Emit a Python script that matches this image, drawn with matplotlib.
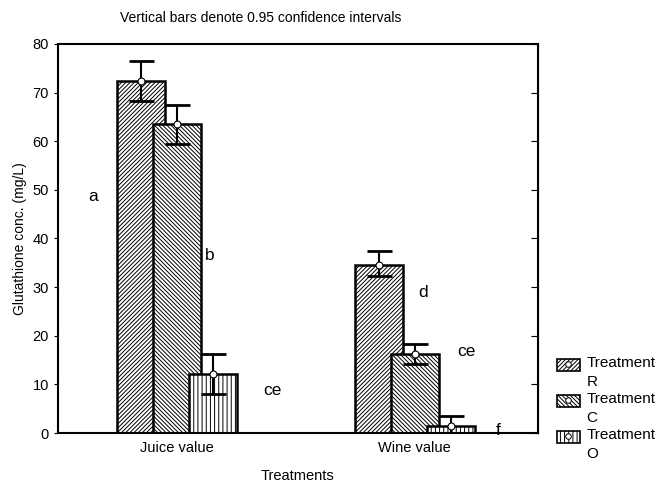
import matplotlib
matplotlib.use("Agg")
import matplotlib.pyplot as plt
from matplotlib.patches import Patch
from matplotlib.lines import Line2D
from matplotlib.legend_handler import HandlerBase, HandlerPatch, HandlerLine2D
import numpy as np

plt.rcParams['font.family'] = ['Liberation Sans', 'DejaVu Sans']
plt.rcParams['hatch.linewidth'] = 0.7

groups = ["Juice value", "Wine value"]
treatments = ["Treatment\nR", "Treatment\nC", "Treatment\nO"]
means = {
    "R": [72.4, 34.5],
    "C": [63.5, 16.2],
    "O": [12.1, 1.4],
}
err_hi = {
    "R": [76.5, 37.4],
    "C": [67.5, 18.3],
    "O": [16.2, 3.5],
}
err_lo = {
    "R": [68.3, 32.3],
    "C": [59.4, 14.2],
    "O": [8.0, -0.6],
}
letters = ["a", "b", "ce", "d", "ce", "f"]
letter_x = [-0.353, 0.139, 0.40, 1.034, 1.218, 1.349]
letter_y = [48.7, 36.6, 8.8, 28.8, 16.7, 0.6]


class ShiftedSwatch(HandlerBase):
    """Hatched patch with a centred marker, raised to the first text line."""
    def __init__(self, shift=0.5):
        super().__init__()
        self.shift = shift

    def create_artists(self, legend, orig_handle, xdescent, ydescent,
                       width, height, fontsize, trans):
        patch, line = orig_handle
        s = self.shift * fontsize
        arts = HandlerPatch().create_artists(legend, patch, xdescent, ydescent - s,
                                             width, height, fontsize, trans)
        arts += HandlerLine2D().create_artists(legend, line, xdescent, ydescent - 2 * s,
                                               width, height, fontsize, trans)
        return arts


fig = plt.figure(figsize=(6.55, 4.83), dpi=100)
ax = fig.add_axes([0.0885, 0.1035, 0.7325, 0.8055])

x = np.arange(len(groups))
width = 0.2017
offs = [-0.151, 0.0, 0.151]
hatches = ['////////', '\\\\\\\\\\\\\\\\', '||||']
keys = ["R", "C", "O"]
handles = []
for k, off, h, lab in zip(keys, offs, hatches, treatments):
    ax.bar(x + off, means[k], width, facecolor='white', edgecolor='black',
           hatch=h, linewidth=1.8, zorder=2)
    m = np.array(means[k]); hi = np.array(err_hi[k]); lo = np.array(err_lo[k])
    ax.errorbar(x + off, m, yerr=[m - lo, hi - m], fmt='none', ecolor='black',
                elinewidth=1.5, capsize=9, capthick=2, zorder=3)
    ax.plot(x + off, m, 'o', ms=5, mfc='white', mec='black', mew=0.8, zorder=4)
    handles.append((Patch(facecolor='white', edgecolor='black', hatch=h, linewidth=1.2),
                    Line2D([], [], marker='o', ms=4, mfc='white', mec='black', mew=0.7, ls='none')))

for t, lx, ly in zip(letters, letter_x, letter_y):
    ax.text(lx, ly, t, fontsize=12.5, ha='center', va='center', zorder=5)

ax.set_xlim(-0.5, 1.517)
ax.set_ylim(0, 80)
ax.set_xticks(x)
ax.set_xticklabels(groups, fontsize=10.5)
ax.set_yticks(np.arange(0, 81, 10))
ax.tick_params(axis='y', labelsize=10.5, direction='out', length=3)
ax.tick_params(axis='x', length=0, pad=6)
for sp in ax.spines.values():
    sp.set_linewidth(1.5)
ax2 = ax.secondary_yaxis('right')
ax2.set_yticks(np.arange(0, 81, 10))
ax2.tick_params(direction='in', length=5, labelright=False)

ax.set_ylabel("Glutathione conc. (mg/L)", fontsize=10)
ax.set_xlabel("Treatments", fontsize=10.5, labelpad=10)
fig.text(120/655, 1 - 18/483, "Vertical bars denote 0.95 confidence intervals",
         fontsize=10, ha='left', va='center')

leg = fig.legend(handles, treatments, loc='upper left',
                 bbox_to_anchor=(549/655, 1 - 348/483), frameon=False,
                 fontsize=11, handlelength=1.55, handleheight=0.8,
                 handletextpad=0.4, labelspacing=0.2, borderpad=0,
                 handler_map={tuple: ShiftedSwatch(shift=0.5)})
for t in leg.get_texts():
    t.set_linespacing(1.45)

fig.savefig("out.png", dpi=100)
